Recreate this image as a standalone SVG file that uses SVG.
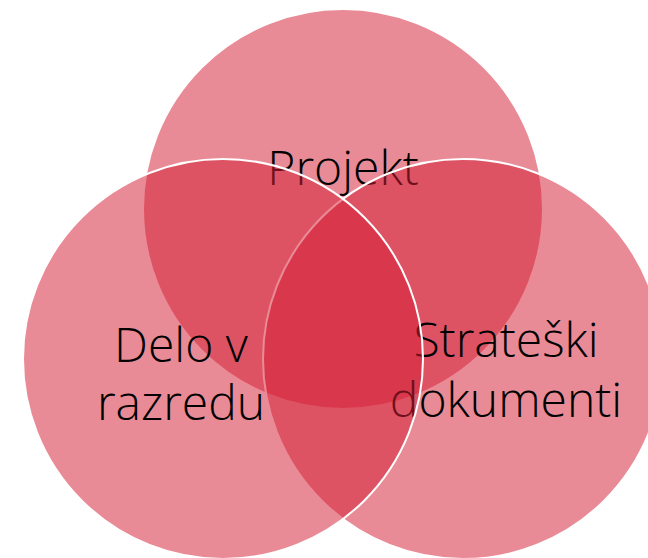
<svg xmlns="http://www.w3.org/2000/svg" width="648" height="558" viewBox="0 0 648 558">
<style>
.c{fill:#D42035;fill-opacity:0.52;stroke:#FFFFFF;stroke-width:2}
.t{font-family:"Open Sans","Liberation Sans",sans-serif;font-weight:300;font-size:48px;fill:#000000;text-anchor:middle}
</style>
<rect width="648" height="558" fill="#FFFFFF"/>
<g id="projekt">
<circle class="c" cx="343" cy="209" r="200"/>
<text class="t" x="343" y="185">Projekt</text>
</g>
<g id="strateski">
<circle class="c" cx="463" cy="359" r="200"/>
<text class="t" x="506" y="357">Strateški</text>
<text class="t" x="506" y="417">dokumenti</text>
</g>
<g id="delo">
<circle class="c" cx="223" cy="359" r="200"/>
<text class="t" x="181" y="362">Delo v</text>
<text class="t" x="181" y="420">razredu</text>
</g>
<g id="connectors"/>
</svg>
